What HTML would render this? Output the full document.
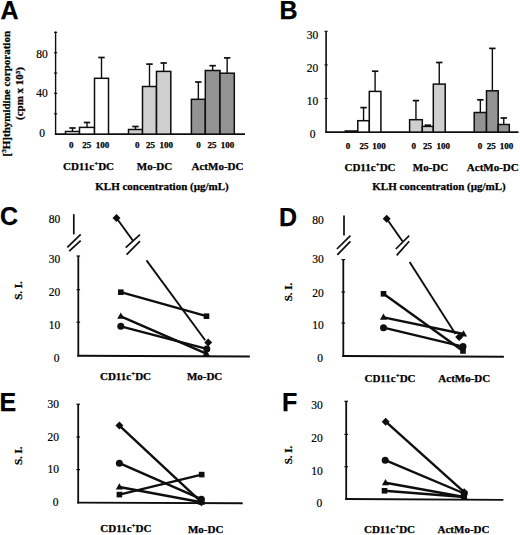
<!DOCTYPE html>
<html><head><meta charset="utf-8"><style>
html,body{margin:0;padding:0;background:#fff;}
svg{display:block;}
text{fill:#000;stroke:#000;stroke-width:0.2px;} text[font-weight="bold"]{stroke-width:0.25px;}
</style></head><body>
<svg width="520" height="535" viewBox="0 0 520 535">
<rect width="520" height="535" fill="#fff"/>
<text x="0.6" y="19" font-family="Liberation Sans" font-size="25" font-weight="bold" text-anchor="start" >A</text>
<text transform="translate(9.5,93.7) rotate(-90)" font-family="Liberation Serif" font-size="11" font-weight="bold" text-anchor="middle">[<tspan font-size="7" dy="-3.5">3</tspan><tspan dy="3.5">H]thymidine corporation</tspan></text>
<text transform="translate(23.3,93.5) rotate(-90)" font-family="Liberation Serif" font-size="11" font-weight="bold" text-anchor="middle">(cpm x 10<tspan font-size="7" dy="-3.5">3</tspan><tspan dy="3.5">)</tspan></text>
<line x1="55.6" y1="31.5" x2="55.6" y2="134.85" stroke="#0e0e0e" stroke-width="1.4"/>
<line x1="54.85" y1="134.1" x2="245" y2="134.1" stroke="#0e0e0e" stroke-width="1.6"/>
<line x1="54.0" y1="113.75" x2="57.2" y2="113.75" stroke="#0e0e0e" stroke-width="1.1"/>
<line x1="54.0" y1="93.39999999999999" x2="57.2" y2="93.39999999999999" stroke="#0e0e0e" stroke-width="1.1"/>
<line x1="54.0" y1="73.04999999999998" x2="57.2" y2="73.04999999999998" stroke="#0e0e0e" stroke-width="1.1"/>
<line x1="54.0" y1="52.69999999999999" x2="57.2" y2="52.69999999999999" stroke="#0e0e0e" stroke-width="1.1"/>
<line x1="54.0" y1="32.349999999999994" x2="57.2" y2="32.349999999999994" stroke="#0e0e0e" stroke-width="1.1"/>
<text x="42" y="57.6" font-family="Liberation Serif" font-size="11.5" font-weight="normal" text-anchor="middle" >80</text>
<text x="42" y="96.8" font-family="Liberation Serif" font-size="11.5" font-weight="normal" text-anchor="middle" >40</text>
<text x="42" y="136.5" font-family="Liberation Serif" font-size="11.5" font-weight="normal" text-anchor="middle" >0</text>
<rect x="65.50" y="131.50" width="14.00" height="2.60" fill="#fff" stroke="#0e0e0e" stroke-width="1.5"/>
<line x1="72.5" y1="128.0" x2="72.5" y2="131.5" stroke="#0e0e0e" stroke-width="1.4"/>
<line x1="69.3" y1="128.0" x2="75.7" y2="128.0" stroke="#0e0e0e" stroke-width="1.7"/>
<rect x="79.50" y="127.40" width="15.00" height="6.70" fill="#fff" stroke="#0e0e0e" stroke-width="1.5"/>
<line x1="87.0" y1="122.5" x2="87.0" y2="127.4" stroke="#0e0e0e" stroke-width="1.4"/>
<line x1="83.8" y1="122.5" x2="90.2" y2="122.5" stroke="#0e0e0e" stroke-width="1.7"/>
<rect x="94.50" y="78.30" width="14.00" height="55.80" fill="#fff" stroke="#0e0e0e" stroke-width="1.5"/>
<line x1="101.5" y1="57.5" x2="101.5" y2="78.3" stroke="#0e0e0e" stroke-width="1.4"/>
<line x1="98.3" y1="57.5" x2="104.7" y2="57.5" stroke="#0e0e0e" stroke-width="1.7"/>
<rect x="128.50" y="129.50" width="14.00" height="4.60" fill="#cfcfcf" stroke="#0e0e0e" stroke-width="1.5"/>
<line x1="135.5" y1="126.5" x2="135.5" y2="129.5" stroke="#0e0e0e" stroke-width="1.4"/>
<line x1="132.3" y1="126.5" x2="138.7" y2="126.5" stroke="#0e0e0e" stroke-width="1.7"/>
<rect x="142.50" y="86.50" width="14.00" height="47.60" fill="#cfcfcf" stroke="#0e0e0e" stroke-width="1.5"/>
<line x1="149.5" y1="64.1" x2="149.5" y2="86.5" stroke="#0e0e0e" stroke-width="1.4"/>
<line x1="146.3" y1="64.1" x2="152.7" y2="64.1" stroke="#0e0e0e" stroke-width="1.7"/>
<rect x="156.50" y="71.40" width="14.30" height="62.70" fill="#cfcfcf" stroke="#0e0e0e" stroke-width="1.5"/>
<line x1="163.65" y1="63.0" x2="163.65" y2="71.4" stroke="#0e0e0e" stroke-width="1.4"/>
<line x1="160.45000000000002" y1="63.0" x2="166.85" y2="63.0" stroke="#0e0e0e" stroke-width="1.7"/>
<rect x="191.40" y="99.30" width="13.90" height="34.80" fill="#939393" stroke="#0e0e0e" stroke-width="1.5"/>
<line x1="198.35000000000002" y1="82.0" x2="198.35000000000002" y2="99.3" stroke="#0e0e0e" stroke-width="1.4"/>
<line x1="195.15000000000003" y1="82.0" x2="201.55" y2="82.0" stroke="#0e0e0e" stroke-width="1.7"/>
<rect x="205.30" y="70.50" width="14.70" height="63.60" fill="#939393" stroke="#0e0e0e" stroke-width="1.5"/>
<line x1="212.65" y1="65.7" x2="212.65" y2="70.5" stroke="#0e0e0e" stroke-width="1.4"/>
<line x1="209.45000000000002" y1="65.7" x2="215.85" y2="65.7" stroke="#0e0e0e" stroke-width="1.7"/>
<rect x="220.00" y="73.20" width="14.30" height="60.90" fill="#939393" stroke="#0e0e0e" stroke-width="1.5"/>
<line x1="227.15" y1="57.9" x2="227.15" y2="73.2" stroke="#0e0e0e" stroke-width="1.4"/>
<line x1="223.95000000000002" y1="57.9" x2="230.35" y2="57.9" stroke="#0e0e0e" stroke-width="1.7"/>
<text x="71.3" y="147.9" font-family="Liberation Serif" font-size="9" font-weight="bold" text-anchor="middle" >0</text>
<text x="86.8" y="147.9" font-family="Liberation Serif" font-size="9" font-weight="bold" text-anchor="middle" >25</text>
<text x="102.4" y="147.9" font-family="Liberation Serif" font-size="9" font-weight="bold" text-anchor="middle" >100</text>
<text x="137.2" y="147.9" font-family="Liberation Serif" font-size="9" font-weight="bold" text-anchor="middle" >0</text>
<text x="150.5" y="147.9" font-family="Liberation Serif" font-size="9" font-weight="bold" text-anchor="middle" >25</text>
<text x="166.2" y="147.9" font-family="Liberation Serif" font-size="9" font-weight="bold" text-anchor="middle" >100</text>
<text x="198.5" y="147.9" font-family="Liberation Serif" font-size="9" font-weight="bold" text-anchor="middle" >0</text>
<text x="212" y="147.9" font-family="Liberation Serif" font-size="9" font-weight="bold" text-anchor="middle" >25</text>
<text x="227.5" y="147.9" font-family="Liberation Serif" font-size="9" font-weight="bold" text-anchor="middle" >100</text>
<text x="88.5" y="169.6" font-family="Liberation Serif" font-size="11" font-weight="bold" text-anchor="middle" >CD11c<tspan font-size="7" dy="-4">+</tspan><tspan dy="4">DC</tspan></text>
<text x="154.5" y="169.8" font-family="Liberation Serif" font-size="11" font-weight="bold" text-anchor="middle" >Mo-DC</text>
<text x="217.5" y="169.8" font-family="Liberation Serif" font-size="11" font-weight="bold" text-anchor="middle" >ActMo-DC</text>
<text x="162" y="190" font-family="Liberation Serif" font-size="11" font-weight="bold" text-anchor="middle" >KLH concentration (µg/mL)</text>
<text x="279.5" y="19" font-family="Liberation Sans" font-size="25" font-weight="bold" text-anchor="start" >B</text>
<line x1="326.1" y1="31.2" x2="326.1" y2="132.85" stroke="#0e0e0e" stroke-width="1.6"/>
<line x1="325.35" y1="132.1" x2="518.5" y2="132.1" stroke="#0e0e0e" stroke-width="1.6"/>
<line x1="324.5" y1="98.5" x2="327.70000000000005" y2="98.5" stroke="#0e0e0e" stroke-width="1.1"/>
<line x1="324.5" y1="64.89999999999999" x2="327.70000000000005" y2="64.89999999999999" stroke="#0e0e0e" stroke-width="1.1"/>
<line x1="324.5" y1="31.299999999999997" x2="327.70000000000005" y2="31.299999999999997" stroke="#0e0e0e" stroke-width="1.1"/>
<text x="312.5" y="39" font-family="Liberation Serif" font-size="11.5" font-weight="normal" text-anchor="middle" >30</text>
<text x="312.5" y="71.8" font-family="Liberation Serif" font-size="11.5" font-weight="normal" text-anchor="middle" >20</text>
<text x="312.5" y="105" font-family="Liberation Serif" font-size="11.5" font-weight="normal" text-anchor="middle" >10</text>
<text x="312.5" y="137.7" font-family="Liberation Serif" font-size="11.5" font-weight="normal" text-anchor="middle" >0</text>
<rect x="345.30" y="131.00" width="12.50" height="1.10" fill="#fff" stroke="#0e0e0e" stroke-width="1.5"/>
<rect x="357.80" y="120.70" width="11.50" height="11.40" fill="#fff" stroke="#0e0e0e" stroke-width="1.5"/>
<line x1="363.55" y1="107.6" x2="363.55" y2="120.7" stroke="#0e0e0e" stroke-width="1.4"/>
<line x1="360.35" y1="107.6" x2="366.75" y2="107.6" stroke="#0e0e0e" stroke-width="1.7"/>
<rect x="369.30" y="91.40" width="11.60" height="40.70" fill="#fff" stroke="#0e0e0e" stroke-width="1.5"/>
<line x1="375.1" y1="71.2" x2="375.1" y2="91.4" stroke="#0e0e0e" stroke-width="1.4"/>
<line x1="371.90000000000003" y1="71.2" x2="378.3" y2="71.2" stroke="#0e0e0e" stroke-width="1.7"/>
<rect x="409.60" y="119.70" width="12.70" height="12.40" fill="#cfcfcf" stroke="#0e0e0e" stroke-width="1.5"/>
<line x1="415.95000000000005" y1="100.6" x2="415.95000000000005" y2="119.7" stroke="#0e0e0e" stroke-width="1.4"/>
<line x1="412.75000000000006" y1="100.6" x2="419.15000000000003" y2="100.6" stroke="#0e0e0e" stroke-width="1.7"/>
<rect x="422.30" y="126.40" width="11.00" height="5.70" fill="#cfcfcf" stroke="#0e0e0e" stroke-width="1.5"/>
<line x1="427.8" y1="125.2" x2="427.8" y2="126.4" stroke="#0e0e0e" stroke-width="1.4"/>
<line x1="424.6" y1="125.2" x2="431.0" y2="125.2" stroke="#0e0e0e" stroke-width="1.7"/>
<rect x="433.30" y="84.10" width="11.90" height="48.00" fill="#cfcfcf" stroke="#0e0e0e" stroke-width="1.5"/>
<line x1="439.25" y1="62.5" x2="439.25" y2="84.1" stroke="#0e0e0e" stroke-width="1.4"/>
<line x1="436.05" y1="62.5" x2="442.45" y2="62.5" stroke="#0e0e0e" stroke-width="1.7"/>
<rect x="474.20" y="112.50" width="12.30" height="19.60" fill="#939393" stroke="#0e0e0e" stroke-width="1.5"/>
<line x1="480.35" y1="99.8" x2="480.35" y2="112.5" stroke="#0e0e0e" stroke-width="1.4"/>
<line x1="477.15000000000003" y1="99.8" x2="483.55" y2="99.8" stroke="#0e0e0e" stroke-width="1.7"/>
<rect x="486.50" y="90.80" width="11.70" height="41.30" fill="#939393" stroke="#0e0e0e" stroke-width="1.5"/>
<line x1="492.35" y1="48.4" x2="492.35" y2="90.8" stroke="#0e0e0e" stroke-width="1.4"/>
<line x1="489.15000000000003" y1="48.4" x2="495.55" y2="48.4" stroke="#0e0e0e" stroke-width="1.7"/>
<rect x="498.20" y="124.50" width="11.10" height="7.60" fill="#939393" stroke="#0e0e0e" stroke-width="1.5"/>
<line x1="503.75" y1="118.0" x2="503.75" y2="124.5" stroke="#0e0e0e" stroke-width="1.4"/>
<line x1="500.55" y1="118.0" x2="506.95" y2="118.0" stroke="#0e0e0e" stroke-width="1.7"/>
<text x="348.1" y="148.8" font-family="Liberation Serif" font-size="9" font-weight="bold" text-anchor="middle" >0</text>
<text x="364" y="148.8" font-family="Liberation Serif" font-size="9" font-weight="bold" text-anchor="middle" >25</text>
<text x="379" y="148.8" font-family="Liberation Serif" font-size="9" font-weight="bold" text-anchor="middle" >100</text>
<text x="413.7" y="148.8" font-family="Liberation Serif" font-size="9" font-weight="bold" text-anchor="middle" >0</text>
<text x="427.6" y="148.8" font-family="Liberation Serif" font-size="9" font-weight="bold" text-anchor="middle" >25</text>
<text x="443.2" y="148.8" font-family="Liberation Serif" font-size="9" font-weight="bold" text-anchor="middle" >100</text>
<text x="480" y="148.8" font-family="Liberation Serif" font-size="9" font-weight="bold" text-anchor="middle" >0</text>
<text x="491.3" y="148.8" font-family="Liberation Serif" font-size="9" font-weight="bold" text-anchor="middle" >25</text>
<text x="506.5" y="148.8" font-family="Liberation Serif" font-size="9" font-weight="bold" text-anchor="middle" >100</text>
<text x="370" y="170.8" font-family="Liberation Serif" font-size="11" font-weight="bold" text-anchor="middle" >CD11c<tspan font-size="7" dy="-4">+</tspan><tspan dy="4">DC</tspan></text>
<text x="430.5" y="170.8" font-family="Liberation Serif" font-size="11" font-weight="bold" text-anchor="middle" >Mo-DC</text>
<text x="492.8" y="171" font-family="Liberation Serif" font-size="11" font-weight="bold" text-anchor="middle" >ActMo-DC</text>
<text x="439" y="189.8" font-family="Liberation Serif" font-size="11" font-weight="bold" text-anchor="middle" >KLH concentration (µg/mL)</text>
<text x="0" y="224.6" font-family="Liberation Sans" font-size="25" font-weight="bold" text-anchor="start" >C</text>
<line x1="78.3" y1="256" x2="78.3" y2="356.59999999999997" stroke="#0e0e0e" stroke-width="1.8"/>
<line x1="77.39999999999999" y1="355.7" x2="249.8" y2="356.5" stroke="#0e0e0e" stroke-width="1.9"/>
<line x1="76.5" y1="256" x2="80.1" y2="256" stroke="#0e0e0e" stroke-width="1.2"/>
<line x1="76.5" y1="289.7" x2="80.1" y2="289.7" stroke="#0e0e0e" stroke-width="1.2"/>
<line x1="76.5" y1="322.2" x2="80.1" y2="322.2" stroke="#0e0e0e" stroke-width="1.2"/>
<text x="54.5" y="222.7" font-family="Liberation Serif" font-size="11.5" font-weight="normal" text-anchor="middle" >80</text>
<text x="54.5" y="263.2" font-family="Liberation Serif" font-size="11.5" font-weight="normal" text-anchor="middle" >30</text>
<text x="54.5" y="296" font-family="Liberation Serif" font-size="11.5" font-weight="normal" text-anchor="middle" >20</text>
<text x="54.5" y="329" font-family="Liberation Serif" font-size="11.5" font-weight="normal" text-anchor="middle" >10</text>
<text x="56.5" y="362" font-family="Liberation Serif" font-size="11.5" font-weight="normal" text-anchor="middle" >0</text>
<line x1="120.8" y1="292.2" x2="206.5" y2="316.2" stroke="#0e0e0e" stroke-width="2.4"/>
<line x1="120.8" y1="316.3" x2="206.3" y2="353.6" stroke="#0e0e0e" stroke-width="2.4"/>
<line x1="120.8" y1="326.3" x2="206.8" y2="348.9" stroke="#0e0e0e" stroke-width="2.4"/>
<rect x="118.0" y="289.4" width="5.6" height="5.6" fill="#0e0e0e"/>
<rect x="203.7" y="313.4" width="5.6" height="5.6" fill="#0e0e0e"/>
<path d="M120.8 312.5416L124.39999999999999 318.8056L117.2 318.8056Z" fill="#0e0e0e"/>
<path d="M206.3 349.8416L209.9 356.10560000000004L202.70000000000002 356.10560000000004Z" fill="#0e0e0e"/>
<circle cx="120.8" cy="326.3" r="3.5" fill="#0e0e0e"/>
<circle cx="206.8" cy="348.9" r="3.5" fill="#0e0e0e"/>
<text x="125.5" y="380.2" font-family="Liberation Serif" font-size="11" font-weight="bold" text-anchor="middle" >CD11c<tspan font-size="7" dy="-4">+</tspan><tspan dy="4">DC</tspan></text>
<text x="204.6" y="380.2" font-family="Liberation Serif" font-size="11" font-weight="bold" text-anchor="middle" >Mo-DC</text>
<text transform="translate(22.3,290.5) rotate(-90)" font-family="Liberation Serif" font-size="11" font-weight="bold" text-anchor="middle">S. I.</text>
<line x1="73.8" y1="214.2" x2="73.8" y2="234.4" stroke="#0e0e0e" stroke-width="1.7"/>
<line x1="67.3" y1="247.4" x2="80.7" y2="234.4" stroke="#0e0e0e" stroke-width="1.7"/>
<line x1="69.2" y1="251.2" x2="80.7" y2="240.6" stroke="#0e0e0e" stroke-width="1.7"/>
<line x1="116.5" y1="218" x2="133" y2="240.8" stroke="#0e0e0e" stroke-width="1.9"/>
<line x1="125.7" y1="247.7" x2="140" y2="234.6" stroke="#0e0e0e" stroke-width="1.7"/>
<line x1="126.6" y1="254.6" x2="140" y2="241.2" stroke="#0e0e0e" stroke-width="1.7"/>
<line x1="146.5" y1="260.4" x2="205.2" y2="340.2" stroke="#0e0e0e" stroke-width="1.9"/>
<path d="M116.5 214.0L120.5 218L116.5 222.0L112.5 218Z" fill="#0e0e0e"/>
<path d="M208.2 338.5L212.2 342.5L208.2 346.5L204.2 342.5Z" fill="#0e0e0e"/>
<text x="279" y="226" font-family="Liberation Sans" font-size="25" font-weight="bold" text-anchor="start" >D</text>
<line x1="343.3" y1="259.6" x2="343.3" y2="356.9" stroke="#0e0e0e" stroke-width="1.8"/>
<line x1="342.40000000000003" y1="356.0" x2="503.9" y2="356.8" stroke="#0e0e0e" stroke-width="1.9"/>
<line x1="341.5" y1="259.6" x2="345.1" y2="259.6" stroke="#0e0e0e" stroke-width="1.2"/>
<line x1="341.5" y1="291.9" x2="345.1" y2="291.9" stroke="#0e0e0e" stroke-width="1.2"/>
<line x1="341.5" y1="323.1" x2="345.1" y2="323.1" stroke="#0e0e0e" stroke-width="1.2"/>
<text x="318" y="224" font-family="Liberation Serif" font-size="11.5" font-weight="normal" text-anchor="middle" >80</text>
<text x="318" y="263.2" font-family="Liberation Serif" font-size="11.5" font-weight="normal" text-anchor="middle" >30</text>
<text x="318" y="296.5" font-family="Liberation Serif" font-size="11.5" font-weight="normal" text-anchor="middle" >20</text>
<text x="318" y="329" font-family="Liberation Serif" font-size="11.5" font-weight="normal" text-anchor="middle" >10</text>
<text x="320" y="362" font-family="Liberation Serif" font-size="11.5" font-weight="normal" text-anchor="middle" >0</text>
<line x1="383.5" y1="293.8" x2="463" y2="351" stroke="#0e0e0e" stroke-width="2.4"/>
<line x1="383.5" y1="317.3" x2="463.5" y2="334" stroke="#0e0e0e" stroke-width="2.4"/>
<line x1="383.5" y1="327.7" x2="463" y2="346.6" stroke="#0e0e0e" stroke-width="2.4"/>
<rect x="380.7" y="291.0" width="5.6" height="5.6" fill="#0e0e0e"/>
<rect x="460.2" y="348.2" width="5.6" height="5.6" fill="#0e0e0e"/>
<path d="M383.5 313.5416L387.1 319.8056L379.9 319.8056Z" fill="#0e0e0e"/>
<path d="M463.5 330.2416L467.1 336.5056L459.9 336.5056Z" fill="#0e0e0e"/>
<circle cx="383.5" cy="327.7" r="3.5" fill="#0e0e0e"/>
<circle cx="463" cy="346.6" r="3.5" fill="#0e0e0e"/>
<text x="390" y="381.6" font-family="Liberation Serif" font-size="11" font-weight="bold" text-anchor="middle" >CD11c<tspan font-size="7" dy="-4">+</tspan><tspan dy="4">DC</tspan></text>
<text x="464.3" y="381.6" font-family="Liberation Serif" font-size="11" font-weight="bold" text-anchor="middle" >ActMo-DC</text>
<text transform="translate(291.8,292) rotate(-90)" font-family="Liberation Serif" font-size="11" font-weight="bold" text-anchor="middle">S. I.</text>
<line x1="344" y1="215.4" x2="344" y2="235.6" stroke="#0e0e0e" stroke-width="1.7"/>
<line x1="336.9" y1="249" x2="350.4" y2="235.6" stroke="#0e0e0e" stroke-width="1.7"/>
<line x1="337.3" y1="254.8" x2="350.4" y2="241.3" stroke="#0e0e0e" stroke-width="1.7"/>
<line x1="386.7" y1="218.8" x2="402.5" y2="241.3" stroke="#0e0e0e" stroke-width="1.9"/>
<line x1="395.8" y1="249" x2="409.2" y2="235.6" stroke="#0e0e0e" stroke-width="1.7"/>
<line x1="396.7" y1="255.4" x2="409.2" y2="241.3" stroke="#0e0e0e" stroke-width="1.7"/>
<line x1="409.6" y1="261.9" x2="455.5" y2="334" stroke="#0e0e0e" stroke-width="1.9"/>
<path d="M386.7 214.8L390.7 218.8L386.7 222.8L382.7 218.8Z" fill="#0e0e0e"/>
<path d="M459.2 333.0L463.2 337L459.2 341.0L455.2 337Z" fill="#0e0e0e"/>
<text x="-0.5" y="410.6" font-family="Liberation Sans" font-size="25" font-weight="bold" text-anchor="start" >E</text>
<line x1="78.2" y1="404.2" x2="78.2" y2="503.5" stroke="#0e0e0e" stroke-width="1.8"/>
<line x1="77.3" y1="502.6" x2="242.7" y2="503.3" stroke="#0e0e0e" stroke-width="1.9"/>
<line x1="76.4" y1="404.2" x2="80.0" y2="404.2" stroke="#0e0e0e" stroke-width="1.2"/>
<line x1="76.4" y1="437" x2="80.0" y2="437" stroke="#0e0e0e" stroke-width="1.2"/>
<line x1="76.4" y1="469.6" x2="80.0" y2="469.6" stroke="#0e0e0e" stroke-width="1.2"/>
<text x="53.3" y="407.7" font-family="Liberation Serif" font-size="11.5" font-weight="normal" text-anchor="middle" >30</text>
<text x="53.3" y="440.8" font-family="Liberation Serif" font-size="11.5" font-weight="normal" text-anchor="middle" >20</text>
<text x="53.3" y="473.4" font-family="Liberation Serif" font-size="11.5" font-weight="normal" text-anchor="middle" >10</text>
<text x="55.5" y="505.7" font-family="Liberation Serif" font-size="11.5" font-weight="normal" text-anchor="middle" >0</text>
<line x1="119.4" y1="425.6" x2="201.4" y2="502.2" stroke="#0e0e0e" stroke-width="2.4"/>
<line x1="119.4" y1="463.2" x2="201.4" y2="499.2" stroke="#0e0e0e" stroke-width="2.4"/>
<line x1="119.4" y1="487" x2="201.4" y2="502.2" stroke="#0e0e0e" stroke-width="2.4"/>
<line x1="119.4" y1="494.6" x2="201.7" y2="474.6" stroke="#0e0e0e" stroke-width="2.4"/>
<path d="M119.4 421.6L123.4 425.6L119.4 429.6L115.4 425.6Z" fill="#0e0e0e"/>
<path d="M201.4 498.2L205.4 502.2L201.4 506.2L197.4 502.2Z" fill="#0e0e0e"/>
<circle cx="119.4" cy="463.2" r="3.5" fill="#0e0e0e"/>
<circle cx="201.4" cy="499.2" r="3.5" fill="#0e0e0e"/>
<path d="M119.4 483.2416L123.0 489.5056L115.80000000000001 489.5056Z" fill="#0e0e0e"/>
<path d="M201.4 498.4416L205.0 504.7056L197.8 504.7056Z" fill="#0e0e0e"/>
<rect x="116.60000000000001" y="491.8" width="5.6" height="5.6" fill="#0e0e0e"/>
<rect x="198.89999999999998" y="471.8" width="5.6" height="5.6" fill="#0e0e0e"/>
<text x="125.9" y="531.9" font-family="Liberation Serif" font-size="11" font-weight="bold" text-anchor="middle" >CD11c<tspan font-size="7" dy="-4">+</tspan><tspan dy="4">DC</tspan></text>
<text x="205.7" y="532.6" font-family="Liberation Serif" font-size="11" font-weight="bold" text-anchor="middle" >Mo-DC</text>
<text transform="translate(22,455.7) rotate(-90)" font-family="Liberation Serif" font-size="11" font-weight="bold" text-anchor="middle">S. I.</text>
<text x="282" y="410.6" font-family="Liberation Sans" font-size="25" font-weight="bold" text-anchor="start" >F</text>
<line x1="346.2" y1="401.3" x2="346.2" y2="499.9" stroke="#0e0e0e" stroke-width="1.8"/>
<line x1="345.3" y1="499.0" x2="503.4" y2="499.9" stroke="#0e0e0e" stroke-width="1.9"/>
<line x1="344.4" y1="401.3" x2="348.0" y2="401.3" stroke="#0e0e0e" stroke-width="1.2"/>
<line x1="344.4" y1="434.4" x2="348.0" y2="434.4" stroke="#0e0e0e" stroke-width="1.2"/>
<line x1="344.4" y1="466.7" x2="348.0" y2="466.7" stroke="#0e0e0e" stroke-width="1.2"/>
<text x="317" y="408.5" font-family="Liberation Serif" font-size="11.5" font-weight="normal" text-anchor="middle" >30</text>
<text x="317" y="441.7" font-family="Liberation Serif" font-size="11.5" font-weight="normal" text-anchor="middle" >20</text>
<text x="317" y="475" font-family="Liberation Serif" font-size="11.5" font-weight="normal" text-anchor="middle" >10</text>
<text x="319.3" y="507.3" font-family="Liberation Serif" font-size="11.5" font-weight="normal" text-anchor="middle" >0</text>
<line x1="385.7" y1="421.7" x2="464.2" y2="492.2" stroke="#0e0e0e" stroke-width="2.4"/>
<line x1="385.2" y1="460.2" x2="464.2" y2="493.5" stroke="#0e0e0e" stroke-width="2.4"/>
<line x1="385.5" y1="482.8" x2="464.2" y2="497" stroke="#0e0e0e" stroke-width="2.4"/>
<line x1="384.5" y1="490.8" x2="464.2" y2="497" stroke="#0e0e0e" stroke-width="2.4"/>
<path d="M385.7 417.7L389.7 421.7L385.7 425.7L381.7 421.7Z" fill="#0e0e0e"/>
<path d="M464.2 488.2L468.2 492.2L464.2 496.2L460.2 492.2Z" fill="#0e0e0e"/>
<circle cx="385.2" cy="460.2" r="3.5" fill="#0e0e0e"/>
<circle cx="464.2" cy="493.5" r="3.5" fill="#0e0e0e"/>
<path d="M385.5 479.0416L389.1 485.3056L381.9 485.3056Z" fill="#0e0e0e"/>
<path d="M464.2 493.2416L467.8 499.5056L460.59999999999997 499.5056Z" fill="#0e0e0e"/>
<rect x="381.7" y="488.0" width="5.6" height="5.6" fill="#0e0e0e"/>
<rect x="461.4" y="494.2" width="5.6" height="5.6" fill="#0e0e0e"/>
<text x="389.5" y="533.3" font-family="Liberation Serif" font-size="11" font-weight="bold" text-anchor="middle" >CD11c<tspan font-size="7" dy="-4">+</tspan><tspan dy="4">DC</tspan></text>
<text x="463.5" y="533.3" font-family="Liberation Serif" font-size="11" font-weight="bold" text-anchor="middle" >ActMo-DC</text>
<text transform="translate(291.5,455) rotate(-90)" font-family="Liberation Serif" font-size="11" font-weight="bold" text-anchor="middle">S. I.</text>
</svg>
</body></html>
